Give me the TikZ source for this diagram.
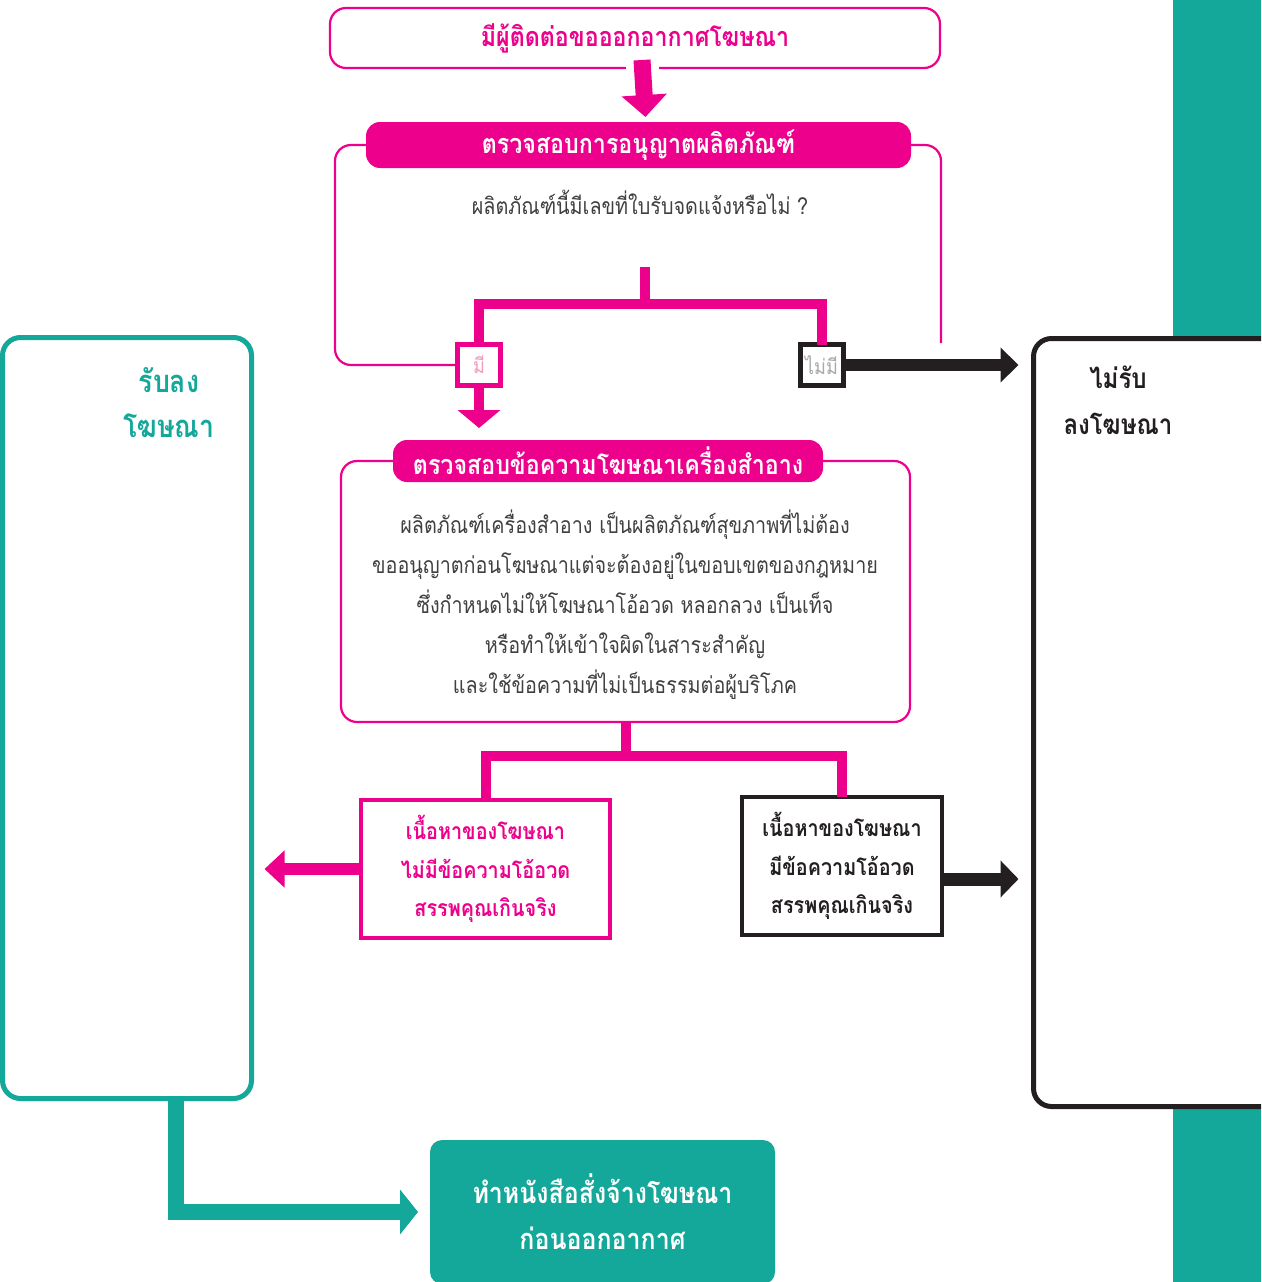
\documentclass[tikz,border=0pt]{standalone}
\usepackage{fontspec}
\newfontfamily\thaifont[Script=Thai,FakeStretch=0.86]{Loma}
\usetikzlibrary{arrows.meta}
\definecolor{adpink}{HTML}{EC008C}
\definecolor{adteal}{HTML}{14A89A}
\definecolor{adblack}{HTML}{231F20}
\definecolor{adgray}{HTML}{404041}
\definecolor{softpink}{HTML}{F49AC1}
\definecolor{softgray}{HTML}{A7A9AC}
\begin{document}
\begin{tikzpicture}[x=1pt,y=-1pt,
  every node/.style={inner sep=0pt,outer sep=0pt},
  head/.style={font=\thaifont\bfseries\fontsize{27}{46}\selectfont,align=center},
  body/.style={font=\thaifont\fontsize{23}{40}\selectfont,text=adgray,align=center},
  pill/.style={head,fill=adpink,text=white,rounded corners=14pt},
  frame/.style={draw=adpink,line width=2.2pt,rounded corners=16pt},
  choice/.style={draw,line width=5pt,fill=white,minimum width=43pt,minimum height=41pt,font=\thaifont\fontsize{21}{26}\selectfont},
  result/.style={draw,line width=4pt,fill=white,minimum height=138pt,align=center,font=\thaifont\bfseries\fontsize{23}{38.5}\selectfont},
  side/.style={draw,line width=5pt,rounded corners=18pt,fill=white},
  branch/.style={adpink,line width=10pt}]
\useasboundingbox (0,0) rectangle (1261,1282);
\clip (0,0) rectangle (1261,1282);
\fill[adteal] (1173,0) rectangle (1261,1282);

\node[frame,head,text=adpink,minimum width=610pt,minimum height=60pt] (top) at (635,38) {มีผู้ติดต่อขอออกอากาศโฆษณา};
\node[body] (ask) at (640,202) {ผลิตภัณฑ์นี้มีเลขที่ใบรับจดแจ้งหรือไม่ ?};
\node[choice,draw=adpink,text=softpink] (have) at (479,365) {มี};
\node[choice,draw=adblack,text=softgray] (nohave) at (821.5,365) {ไม่มี};
\coordinate (fork) at (645,267);
\coordinate (frameend) at (941,343);
\draw[frame] (have.west) -| (335,145) -- (366,145);
\draw[frame] (911,145) -| (frameend);
\node[pill,minimum width=545pt,minimum height=46pt] (permit) at (638.5,145) {ตรวจสอบการอนุญาตผลิตภัณฑ์};

\node[frame,minimum width=569pt,minimum height=261pt] (checkbox) at (625.5,591.5) {};
\node[pill,minimum width=430pt,minimum height=42pt] (check) at (608,461) {ตรวจสอบข้อความโฆษณาเครื่องสำอาง};
\node[body] (rule) at (625,605) {ผลิตภัณฑ์เครื่องสำอาง เป็นผลิตภัณฑ์สุขภาพที่ไม่ต้อง\\
ขออนุญาตก่อนโฆษณาแต่จะต้องอยู่ในขอบเขตของกฎหมาย\\
ซึ่งกำหนดไม่ให้โฆษณาโอ้อวด หลอกลวง เป็นเท็จ\\
หรือทำให้เข้าใจผิดในสาระสำคัญ\\
และใช้ข้อความที่ไม่เป็นธรรมต่อผู้บริโภค};

\node[result,draw=adpink,text=adpink,minimum width=249pt] (pass) at (485.5,869) {เนื้อหาของโฆษณา\\ไม่มีข้อความโอ้อวด\\สรรพคุณเกินจริง};
\node[result,draw=adblack,text=adblack,minimum width=200pt] (fail) at (842,866) {เนื้อหาของโฆษณา\\มีข้อความโอ้อวด\\สรรพคุณเกินจริง};

\node[side,draw=adteal,minimum width=249pt,minimum height=761pt] (accept) at (127,718) {};
\node[side,draw=adblack,minimum width=300pt,minimum height=768pt] (reject) at (1183.5,722.5) {};
\node[head,text=adteal,font=\thaifont\bfseries\fontsize{31}{45}\selectfont] (accepttxt) at (169,403) {รับลง\\โฆษณา};
\node[head,text=adblack,font=\thaifont\bfseries\fontsize{28}{46}\selectfont] (rejecttxt) at (1118,400) {ไม่รับ\\ลงโฆษณา};
\node[head,fill=adteal,text=white,rounded corners=12pt,minimum width=345pt,minimum height=144pt,font=\thaifont\bfseries\fontsize{29}{46}\selectfont] (order) at (602.5,1212) {ทำหนังสือสั่งจ้างโฆษณา\\ก่อนออกอากาศ};

\draw[white,line width=33pt] ([xshift=7pt,yshift=3pt]top.south) -- ([xshift=7pt,yshift=-3pt]top.south);
\draw[adpink,line width=17pt,-{Triangle[length=22pt,width=44pt]}] ([xshift=7pt,yshift=8pt]top.south) -- ([xshift=7pt,yshift=5pt]permit.north);
\draw[branch] (fork) -- ++(0,37) -| (have.north);
\draw[branch] (fork) -- ++(0,37) -| (nohave.north);
\draw[adpink,line width=10pt,-{Triangle[length=18pt,width=42pt]},shorten >=12pt] (have.south) -- (have.south |- check.north);
\draw[adblack,line width=12pt,-{Triangle[length=18pt,width=34pt]},shorten >=15pt] (nohave.east) -- (reject.west |- nohave.east);
\draw[branch] (checkbox.south) -- ++(0,34) -| (pass.north);
\draw[branch] (checkbox.south) -- ++(0,34) -| (fail.north);
\draw[adpink,line width=12pt,-{Triangle[length=20pt,width=36pt]},shorten >=13pt] (pass.west) -- (accept.east |- pass.west);
\coordinate (failout) at ([yshift=-13pt]fail.east);
\draw[adblack,line width=13pt,-{Triangle[length=18pt,width=36pt]},shorten >=15pt] (failout) -- (reject.west |- failout);
\coordinate (acceptout) at ([xshift=49pt]accept.south);
\draw[adteal,line width=16pt,-{Triangle[length=18pt,width=44pt]},shorten >=12pt] (acceptout) |- (order.west);
\end{tikzpicture}
\end{document}
